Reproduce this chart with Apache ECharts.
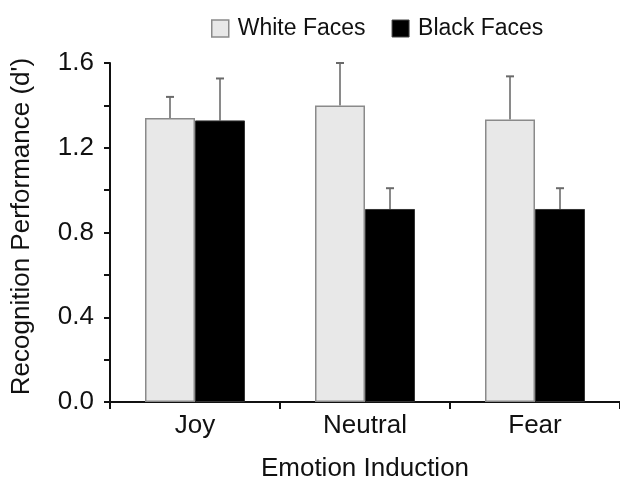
<!DOCTYPE html>
<html>
<head>
<meta charset="utf-8">
<script src="https://cdn.jsdelivr.net/npm/echarts@6/dist/echarts.min.js"></script>
<style>html,body{margin:0;padding:0;background:#fff}#c{width:620px;height:487px}</style>
</head>
<body>
<div id="c"></div>
<script>
var categories = ['Joy', 'Neutral', 'Fear'];
var whiteFaces = [1.34, 1.40, 1.333];
var whiteFacesErrTop = [1.44, 1.60, 1.537];
var blackFaces = [1.329, 0.911, 0.911];
var blackFacesErrTop = [1.527, 1.009, 1.009];
var yTicks = [0, 0.2, 0.4, 0.6, 0.8, 1.0, 1.2, 1.4, 1.6];

var FONT = 'Liberation Sans';
var chart = echarts.init(document.getElementById('c'), null, {renderer: 'canvas'});

function errSeries(name, vals, tops, side) {
  return {
    type: 'custom',
    name: name + ' err',
    z: 1,
    silent: true,
    data: vals.map(function (v, i) { return [i, v, tops[i]]; }),
    renderItem: function (params, api) {
      var base = api.coord([api.value(0), api.value(1)]);
      var top = api.coord([api.value(0), api.value(2)]);
      var bw = 50;
      var x = base[0] + side * bw / 2;
      var cap = 4;
      return {
        type: 'group',
        children: [
          {type: 'line', shape: {x1: x, y1: base[1], x2: x, y2: top[1]}, style: {stroke: '#8a8a8a', lineWidth: 2}},
          {type: 'line', shape: {x1: x - cap, y1: top[1], x2: x + cap, y2: top[1]}, style: {stroke: '#6a6a6a', lineWidth: 2}}
        ]
      };
    }
  };
}

chart.setOption({
  animation: false,
  backgroundColor: '#fff',
  textStyle: {fontFamily: FONT},
  legend: {
    top: 12,
    left: 206,
    itemWidth: 17,
    itemHeight: 17,
    itemGap: 26,
    icon: 'rect',
    textStyle: {fontFamily: FONT, fontSize: 23, color: '#111', padding: [0, 0, 0, 4]},
    data: [
      {name: 'White Faces', itemStyle: {color: '#e8e8e8', borderColor: '#8a8a8a', borderWidth: 1.5}},
      {name: 'Black Faces', itemStyle: {color: '#000', borderColor: '#444', borderWidth: 1}}
    ]
  },
  grid: {left: 110, top: 63, bottom: 80, width: 519, containLabel: false},
  xAxis: {
    type: 'category',
    data: categories,
    name: 'Emotion Induction',
    nameLocation: 'middle',
    nameGap: 54,
    nameTextStyle: {fontFamily: FONT, fontSize: 26, color: '#111'},
    axisLine: {lineStyle: {color: '#111', width: 2}},
    axisTick: {show: true, length: 7, lineStyle: {color: '#111', width: 2}},
    axisLabel: {fontFamily: FONT, fontSize: 26, color: '#111', margin: 11}
  },
  yAxis: {
    type: 'value',
    min: 0,
    max: 1.6,
    interval: 0.2,
    name: "Recognition Performance (d')",
    nameLocation: 'middle',
    nameGap: 75,
    nameTextStyle: {fontFamily: FONT, fontSize: 26, color: '#111', padding: [0, 0, 0, 12]},
    axisLine: {show: true, lineStyle: {color: '#111', width: 2}},
    axisTick: {show: true, length: 6, lineStyle: {color: '#111', width: 2}},
    splitLine: {show: false},
    axisLabel: {
      fontFamily: FONT, fontSize: 26, color: '#111', margin: 16,
      formatter: function (v) {
        var r = Math.round(v * 10);
        return (r % 4 === 0) ? (r / 10).toFixed(1) : '';
      }
    }
  },
  series: [
    {
      name: 'White Faces', type: 'bar', data: whiteFaces, barWidth: 50, barGap: '0%', z: 2,
      itemStyle: {color: '#e8e8e8', borderColor: '#8a8a8a', borderWidth: 1.5}
    },
    {
      name: 'Black Faces', type: 'bar', data: blackFaces, barWidth: 50, barGap: '0%', z: 2,
      itemStyle: {color: '#000', borderColor: '#333', borderWidth: 1}
    },
    errSeries('White Faces', whiteFaces, whiteFacesErrTop, -1),
    errSeries('Black Faces', blackFaces, blackFacesErrTop, 1)
  ]
});
</script>
</body>
</html>
